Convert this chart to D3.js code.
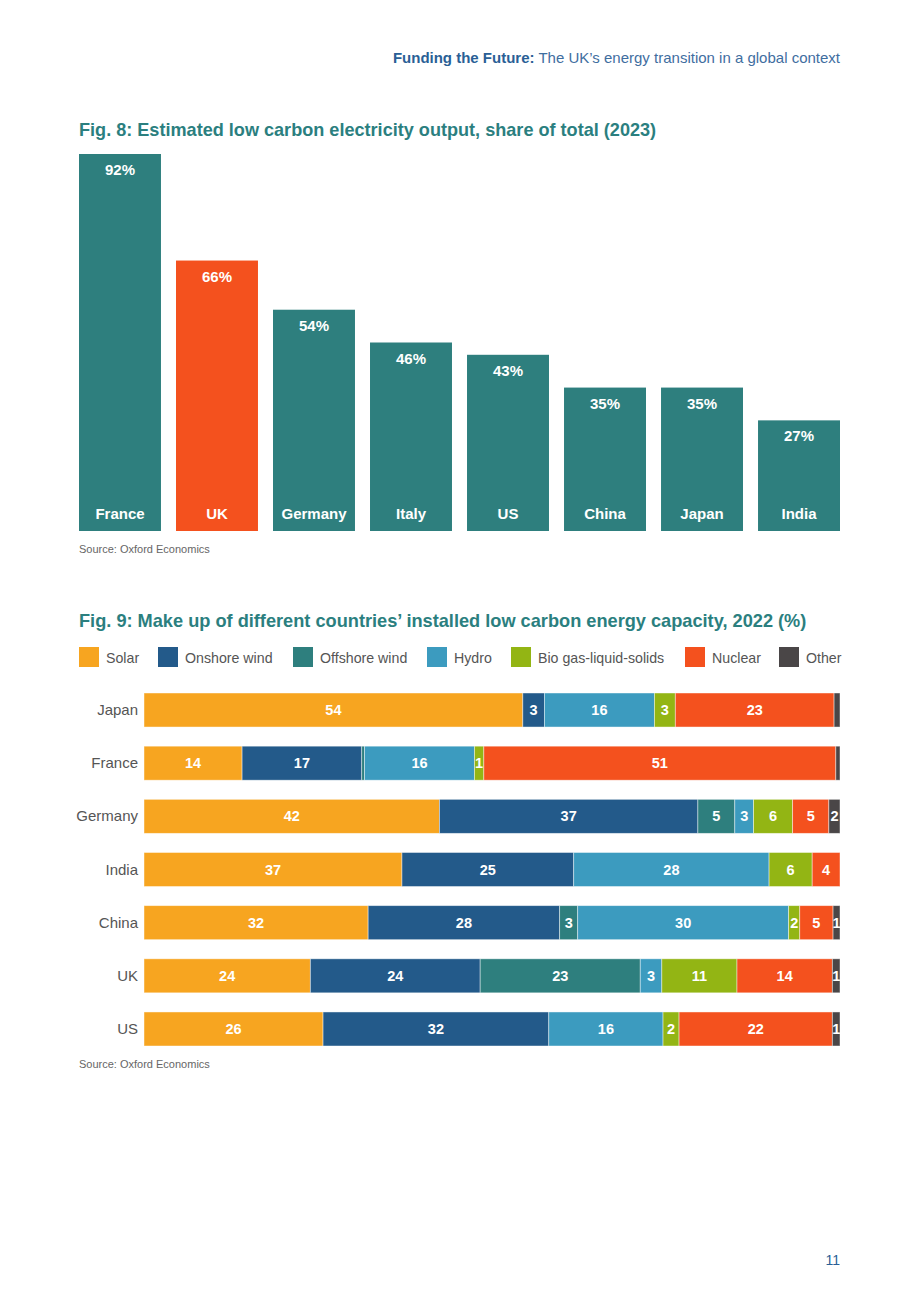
<!DOCTYPE html>
<html>
<head>
<meta charset="utf-8">
<script src="https://cdn.jsdelivr.net/npm/d3@7"></script>
<style>
  body { margin: 0; background: #fff; }
  svg text { font-family: "Liberation Sans", Arial, Helvetica, sans-serif; }
</style>
</head>
<body>
<svg id="page" width="920" height="1302"></svg>
<script>
// Fig. 8 data
var countries8 = ["France", "UK", "Germany", "Italy", "US", "China", "Japan", "India"];
var share8 = [92, 66, 54, 46, 43, 35, 35, 27];

// Fig. 9 data (shares, rows are normalised to 100%)
var countries9 = ["Japan", "France", "Germany", "India", "China", "UK", "US"];
var sources = ["Solar", "Onshore wind", "Offshore wind", "Hydro", "Bio gas-liquid-solids", "Nuclear", "Other"];
var solar    = [54.4, 14.1, 42.4, 37.1, 32.3, 23.9, 25.7];
var onshore  = [3.1, 17.2, 37.1, 24.7, 27.6, 24.4, 32.4];
var offshore = [0, 0.4, 5.3, 0, 2.6, 23.0, 0];
var hydro    = [15.8, 15.8, 2.7, 28.1, 30.4, 3.1, 16.4];
var bio      = [3.0, 1.35, 5.6, 6.2, 1.6, 10.8, 2.3];
var nuclear  = [22.8, 50.6, 5.2, 4.0, 4.8, 13.7, 22.0];
var other    = [0.85, 0.6, 1.6, 0, 1.0, 1.1, 1.1];

var teal = "#2e7f7e", orange = "#f4511e";
var colors = ["#f7a520", "#235a8a", "#2e7f7e", "#3c9bbf", "#93b514", "#f4511e", "#4a4647"];

var svg = d3.select("#page");

// page header
var header = svg.append("text")
    .attr("x", 840).attr("y", 63)
    .attr("text-anchor", "end")
    .attr("font-size", 15)
    .attr("fill", "#2a5f96");
header.append("tspan").attr("font-weight", "bold").text("Funding the Future:");
header.append("tspan").attr("fill", "#3f6e9f").text(" The UK\u2019s energy transition in a global context");

// ---------- Fig. 8 ----------
svg.append("text")
    .attr("x", 79).attr("y", 136)
    .attr("font-size", 18.1).attr("font-weight", "bold")
    .attr("fill", "#2b7f7f")
    .text("Fig. 8: Estimated low carbon electricity output, share of total (2023)");

var x8 = d3.scaleBand()
    .domain(countries8)
    .range([79, 840])
    .paddingInner(0.155)
    .paddingOuter(0);

var y8 = d3.scaleLinear()
    .domain([0, 92])
    .range([531, 154]);

var data8 = countries8.map(function (c, i) { return { country: c, value: share8[i] }; });

var g8 = svg.append("g");

g8.selectAll(".bar8")
    .data(data8)
    .enter().append("rect")
    .attr("class", "bar8")
    .attr("x", function (d) { return x8(d.country); })
    .attr("y", function (d) { return y8(d.value); })
    .attr("width", x8.bandwidth())
    .attr("height", function (d) { return y8(0) - y8(d.value); })
    .attr("fill", function (d) { return d.country == "UK" ? orange : teal; });

g8.selectAll(".val8")
    .data(data8)
    .enter().append("text")
    .attr("x", function (d) { return x8(d.country) + x8.bandwidth() / 2; })
    .attr("y", function (d) { return y8(d.value) + 21; })
    .attr("text-anchor", "middle")
    .attr("font-size", 15).attr("font-weight", "bold")
    .attr("fill", "#fff")
    .text(function (d) { return d.value + "%"; });

g8.selectAll(".lab8")
    .data(data8)
    .enter().append("text")
    .attr("x", function (d) { return x8(d.country) + x8.bandwidth() / 2; })
    .attr("y", 519)
    .attr("text-anchor", "middle")
    .attr("font-size", 15).attr("font-weight", "bold")
    .attr("fill", "#fff")
    .text(function (d) { return d.country; });

svg.append("text")
    .attr("x", 79).attr("y", 553)
    .attr("font-size", 11).attr("fill", "#666")
    .text("Source: Oxford Economics");

// ---------- Fig. 9 ----------
svg.append("text")
    .attr("x", 79).attr("y", 627)
    .attr("font-size", 18.2).attr("font-weight", "bold")
    .attr("fill", "#2b7f7f")
    .text("Fig. 9: Make up of different countries\u2019 installed low carbon energy capacity, 2022 (%)");

// legend
var legendX = [79, 158, 293, 427, 511, 685, 779];
var legend = svg.append("g").selectAll("g")
    .data(sources)
    .enter().append("g")
    .attr("transform", function (d, i) { return "translate(" + legendX[i] + ",647)"; });
legend.append("rect")
    .attr("width", 20).attr("height", 20)
    .attr("fill", function (d, i) { return colors[i]; });
legend.append("text")
    .attr("x", 27).attr("y", 15.5)
    .attr("font-size", 14.2).attr("fill", "#555")
    .text(function (d) { return d; });

var rows = countries9.map(function (c, i) {
    return {
        country: c,
        "Solar": solar[i],
        "Onshore wind": onshore[i],
        "Offshore wind": offshore[i],
        "Hydro": hydro[i],
        "Bio gas-liquid-solids": bio[i],
        "Nuclear": nuclear[i],
        "Other": other[i]
    };
});

var stacked = d3.stack()
    .keys(sources)
    .offset(d3.stackOffsetExpand)(rows);

var x9 = d3.scaleLinear().domain([0, 1]).range([144, 840]);
var y9 = d3.scaleBand()
    .domain(countries9)
    .range([693, 1046])
    .paddingInner(0.36)
    .paddingOuter(0);

var layers = svg.append("g").selectAll("g")
    .data(stacked)
    .enter().append("g")
    .attr("fill", function (d, i) { return colors[i]; });

layers.selectAll("rect")
    .data(function (d) { return d; })
    .enter().append("rect")
    .attr("x", function (d) { return x9(d[0]); })
    .attr("y", function (d) { return y9(d.data.country); })
    .attr("width", function (d) { return x9(d[1]) - x9(d[0]); })
    .attr("height", y9.bandwidth())
    .attr("stroke", "#fff")
    .attr("stroke-opacity", 0.55)
    .attr("stroke-width", 0.8);

layers.each(function (layer) {
    d3.select(this).selectAll("text")
        .data(layer.filter(function (d) { return d.data[layer.key] >= 0.9; }))
        .enter().append("text")
        .attr("x", function (d) { return (x9(d[0]) + x9(d[1])) / 2; })
        .attr("y", function (d) { return y9(d.data.country) + y9.bandwidth() / 2 + 5; })
        .attr("text-anchor", "middle")
        .attr("font-size", 14.5).attr("font-weight", "bold")
        .attr("fill", "#fff")
        .text(function (d) { return Math.round(d.data[layer.key]); });
});

svg.append("g").selectAll("text")
    .data(countries9)
    .enter().append("text")
    .attr("x", 138)
    .attr("y", function (d) { return y9(d) + y9.bandwidth() / 2 + 5; })
    .attr("text-anchor", "end")
    .attr("font-size", 15).attr("fill", "#555")
    .text(function (d) { return d; });

svg.append("text")
    .attr("x", 79).attr("y", 1068)
    .attr("font-size", 11).attr("fill", "#666")
    .text("Source: Oxford Economics");

// page number
svg.append("text")
    .attr("x", 840).attr("y", 1265)
    .attr("text-anchor", "end")
    .attr("font-size", 14).attr("fill", "#2a5f96")
    .text("11");
</script>
</body>
</html>
